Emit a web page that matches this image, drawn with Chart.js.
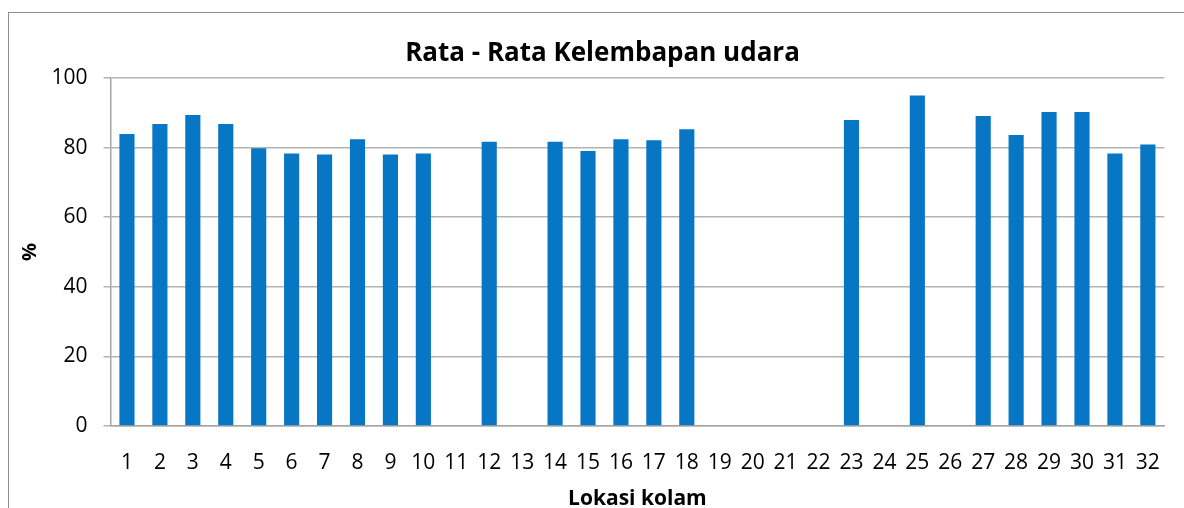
<!DOCTYPE html>
<html>
<head>
<meta charset="utf-8">
<script src="https://cdn.jsdelivr.net/npm/chart.js@4.4.1/dist/chart.umd.min.js"></script>
<style>
  html, body { margin: 0; padding: 0; background: #fff; }
  #wrap { width: 1184px; height: 508px; }
</style>
</head>
<body>
<div id="wrap"><canvas id="myChart" width="1184" height="508"></canvas></div>
<script>
const lokasi = ['1', '2', '3', '4', '5', '6', '7', '8', '9', '10', '11', '12', '13', '14', '15', '16',
  '17', '18', '19', '20', '21', '22', '23', '24', '25', '26', '27', '28', '29', '30', '31', '32'];
// rata-rata kelembapan (%), null = tidak ada data
const kelembapan = [83.9, 86.8, 89.4, 86.8, 79.8, 78.3, 78.0, 82.4, 78.0, 78.3, null, 81.7, null, 81.7, 79.0, 82.4,
  82.1, 85.3, null, null, null, null, 87.9, null, 95.0, null, 89.1, 83.6, 90.2, 90.2, 78.3, 80.9];
const yTicks = [0, 20, 40, 60, 80, 100];

const font = 'Open Sans';

// frame around the whole chart, like the spreadsheet chart box
const frame = {
  id: 'frame',
  beforeDraw(chart) {
    const c = chart.ctx;
    c.save();
    c.strokeStyle = '#8c8c8c';
    c.lineWidth = 1;
    c.strokeRect(8.5, 12.5, 1300, 600);
    c.restore();
  },
};

const ctx = document.getElementById('myChart').getContext('2d');
const chart = new Chart(ctx, {
  type: 'bar',
  data: {
    labels: lokasi,
    datasets: [
      {
        label: 'Kelembapan',
        data: kelembapan,
        backgroundColor: '#0777c5',
        borderWidth: 0,
        barPercentage: 0.46,
        categoryPercentage: 1,
      },
    ],
  },
  options: {
    responsive: false,
    animation: false,
    layout: { padding: { left: 30, right: 9, top: 0, bottom: 0 } },
    plugins: {
      legend: { display: false },
      tooltip: { enabled: false },
      title: {
        display: true,
        text: 'Rata - Rata Kelembapan udara',
        color: '#000',
        font: { family: font, size: 26, weight: 'bold' },
        padding: { top: 38, bottom: 8.8 },
      },
    },
    scales: {
      x: {
        grid: { display: false, drawTicks: false },
        border: { display: true, color: '#a6a6a6', width: 1.5 },
        ticks: {
          color: '#000',
          font: { family: font, size: 21 },
          padding: 24,
          autoSkip: false,
          maxRotation: 0,
        },
        title: {
          display: true,
          text: 'Lokasi kolam',
          color: '#000',
          font: { family: font, size: 21, weight: 'bold' },
          padding: { top: 0, bottom: -4 },
        },
        afterFit(scale) { scale.height = 82; },
      },
      y: {
        min: 0,
        max: 100,
        afterBuildTicks(scale) { scale.ticks = yTicks.map(v => ({ value: v })); },
        grid: { color: '#b3b3b3', lineWidth: 1.5, tickLength: 7 },
        border: { display: true, color: '#a6a6a6', width: 1.5 },
        ticks: {
          color: '#000',
          font: { family: font, size: 21 },
          padding: 16,
        },
        title: {
          display: true,
          text: '%',
          color: '#000',
          font: { family: font, size: 20, weight: 'bold' },
          padding: { top: -12, bottom: 0 },
        },
        afterFit(scale) { scale.width = 80.5; },
      },
    },
  },
  plugins: [frame],
});
</script>
</body>
</html>
